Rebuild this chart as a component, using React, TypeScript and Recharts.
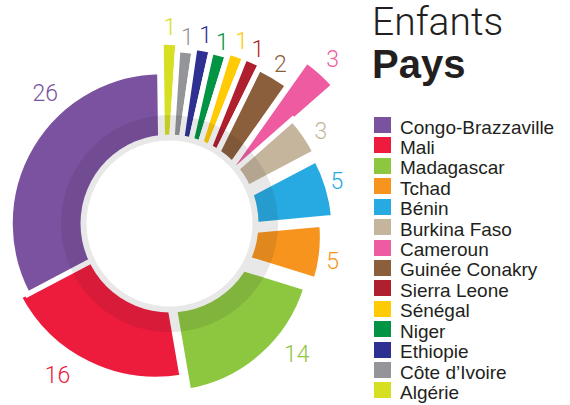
import React from 'react';
import { PieChart, Pie, Sector, Legend } from 'recharts';

// ---- data ----
const COUNTRIES = [
  'Congo-Brazzaville',
  'Mali',
  'Madagascar',
  'Tchad',
  'Bénin',
  'Burkina Faso',
  'Cameroun',
  'Guinée Conakry',
  'Sierra Leone',
  'Sénégal',
  'Niger',
  'Ethiopie',
  'Côte d\u2019Ivoire',
  'Algérie',
];
const CHILDREN = [26, 16, 14, 5, 5, 3, 3, 2, 1, 1, 1, 1, 1, 1];
const COLORS = [
  '#7b52a0',
  '#ed1b3c',
  '#8dc63f',
  '#f7941d',
  '#27aae1',
  '#c4b59c',
  '#ef5ba1',
  '#8b5e3c',
  '#b01f2e',
  '#ffcb05',
  '#009444',
  '#2e3192',
  '#939598',
  '#d7df23',
];
const TITLE = 'Enfants';
const SUBTITLE = 'Pays';

// ---- styling (explode offset, outer radius, label distance / nudge) ----
type SliceStyle = { dx: number; dy: number; r: number; lo: number; ln: number };
const SLICE_STYLE: Record<string, SliceStyle> = {
  'Algérie': { dx: -1, dy: 37.5, r: 219, lo: 15, ln: 0 },
  'Côte d\u2019Ivoire': { dx: -1, dy: 37.5, r: 212, lo: 13, ln: 0 },
  'Ethiopie': { dx: -1, dy: 37.5, r: 216, lo: 13, ln: 0 },
  'Niger': { dx: -1, dy: 37.5, r: 215, lo: 11, ln: 0 },
  'Sénégal': { dx: -1, dy: 37.5, r: 219, lo: 14, ln: 0 },
  'Sierra Leone': { dx: -1, dy: 37.5, r: 219, lo: 12, ln: 0 },
  'Guinée Conakry': { dx: -1, dy: 37.5, r: 215, lo: 13, ln: 0 },
  'Cameroun': { dx: 50.6, dy: -34, r: 158, lo: 17, ln: 0 },
  'Burkina Faso': { dx: 0, dy: 8, r: 170, lo: 15, ln: 2 },
  'Bénin': { dx: 13.5, dy: 8.5, r: 156, lo: 10, ln: -1 },
  'Tchad': { dx: 12.6, dy: 13.8, r: 145, lo: 12, ln: 3 },
  'Madagascar': { dx: -2, dy: 20, r: 150, lo: 24, ln: -9 },
  'Mali': { dx: -9, dy: 1, r: 155, lo: 25, ln: 7 },
  'Congo-Brazzaville': { dx: -3, dy: 0, r: 152, lo: 23, ln: 17.5 },
};
const GAP = 5.5;
const RING_INNER = 83;
const RING_OUTER = 108.5;
const DISC_RADIUS = 89;
const LABEL_FONT = 'Roboto, "Liberation Sans", Arial, sans-serif';
const TEXT_FONT = '"Liberation Sans", Arial, Helvetica, sans-serif';

// clockwise from 12 o'clock, first slice = last legend entry
const pieData = COUNTRIES.map((name, i) => ({ name, value: CHILDREN[i], color: COLORS[i] })).reverse();
const ringData = [{ name: 'ring', value: 1 }];

const RAD = Math.PI / 180;
const polar = (cx: number, cy: number, r: number, angle: number) => ({
  x: cx + r * Math.cos(-angle * RAD),
  y: cy + r * Math.sin(-angle * RAD),
});

const renderSlice = (props: any) => {
  const { cx, cy, startAngle, endAngle, midAngle, payload, index } = props;
  const name: string = payload?.name ?? props.name;
  const value: number = payload?.value ?? props.value;
  const color: string = payload?.color ?? COLORS[COUNTRIES.indexOf(name)];
  const s = SLICE_STYLE[name];
  const ox = cx + s.dx;
  const oy = cy + s.dy;
  const p = polar(ox, oy, s.r + s.lo, midAngle - s.ln);
  return (
    <g key={`slice-${index}`}>
      <Sector
        cx={ox}
        cy={oy}
        innerRadius={0}
        outerRadius={s.r}
        startAngle={startAngle}
        endAngle={endAngle}
        fill={color}
        stroke="#ffffff"
        strokeWidth={GAP}
        strokeLinejoin="miter"
      />
      <text
        x={p.x}
        y={p.y}
        textAnchor="middle"
        dominantBaseline="central"
        fill={color}
        fontSize={23}
        fontWeight={300}
        fontFamily={LABEL_FONT}
      >
        {value}
      </text>
    </g>
  );
};

const renderRing = (props: any) => {
  const { cx, cy, innerRadius, outerRadius } = props;
  return (
    <g key="ring">
      <circle cx={cx} cy={cy} r={DISC_RADIUS} fill="#ffffff" />
      <circle
        cx={cx}
        cy={cy}
        r={(innerRadius + outerRadius) / 2}
        fill="none"
        stroke="#1c1d2a"
        strokeOpacity={0.1}
        strokeWidth={outerRadius - innerRadius}
      />
    </g>
  );
};

const renderLegend = () => {
  const rowTop = 117;
  const pitch = 20.42;
  return (
    <div style={{ position: 'relative', width: 210, height: 405, fontFamily: TEXT_FONT, color: '#231f20' }}>
      <div
        style={{
          position: 'absolute',
          left: 12,
          top: 3,
          fontSize: 39,
          lineHeight: '39px',
          fontWeight: 300,
          fontFamily: LABEL_FONT,
          whiteSpace: 'nowrap',
        }}
      >
        {TITLE}
      </div>
      <div
        style={{
          position: 'absolute',
          left: 12,
          top: 43.6,
          fontSize: 40,
          lineHeight: '40px',
          fontWeight: 700,
          whiteSpace: 'nowrap',
        }}
      >
        {SUBTITLE}
      </div>
      {COUNTRIES.map((c, i) => (
        <div key={c} style={{ position: 'absolute', left: 14, top: rowTop + i * pitch, height: 20, width: 196 }}>
          <div style={{ position: 'absolute', left: 0, top: 0, width: 17, height: 16, background: COLORS[i] }} />
          <div
            style={{
              position: 'absolute',
              left: 26,
              top: 0.5,
              fontSize: 19,
              lineHeight: '19px',
              whiteSpace: 'nowrap',
            }}
          >
            {c}
          </div>
        </div>
      ))}
    </div>
  );
};

export default function App() {
  return (
    <div style={{ position: 'absolute', left: 0, top: 0, width: 570, height: 405, background: '#ffffff' }}>
      <PieChart width={570} height={405} margin={{ top: 0, right: 0, bottom: 0, left: 0 }}>
        <Pie
          data={pieData}
          dataKey="value"
          nameKey="name"
          cx={165}
          cy={223.5}
          innerRadius={0}
          outerRadius={150}
          startAngle={90.8}
          endAngle={-269.2}
          fill="none"
          stroke="none"
          label={renderSlice}
          labelLine={false}
          isAnimationActive={false}
          legendType="none"
        />
        <Pie
          data={ringData}
          dataKey="value"
          cx={169.5}
          cy={223.5}
          innerRadius={RING_INNER}
          outerRadius={RING_OUTER}
          startAngle={90}
          endAngle={-270}
          fill="none"
          stroke="none"
          label={renderRing}
          labelLine={false}
          isAnimationActive={false}
          legendType="none"
        />
        <Legend
          layout="vertical"
          align="right"
          verticalAlign="top"
          wrapperStyle={{ left: 360, top: 0, width: 210 }}
          content={renderLegend}
        />
      </PieChart>
    </div>
  );
}
